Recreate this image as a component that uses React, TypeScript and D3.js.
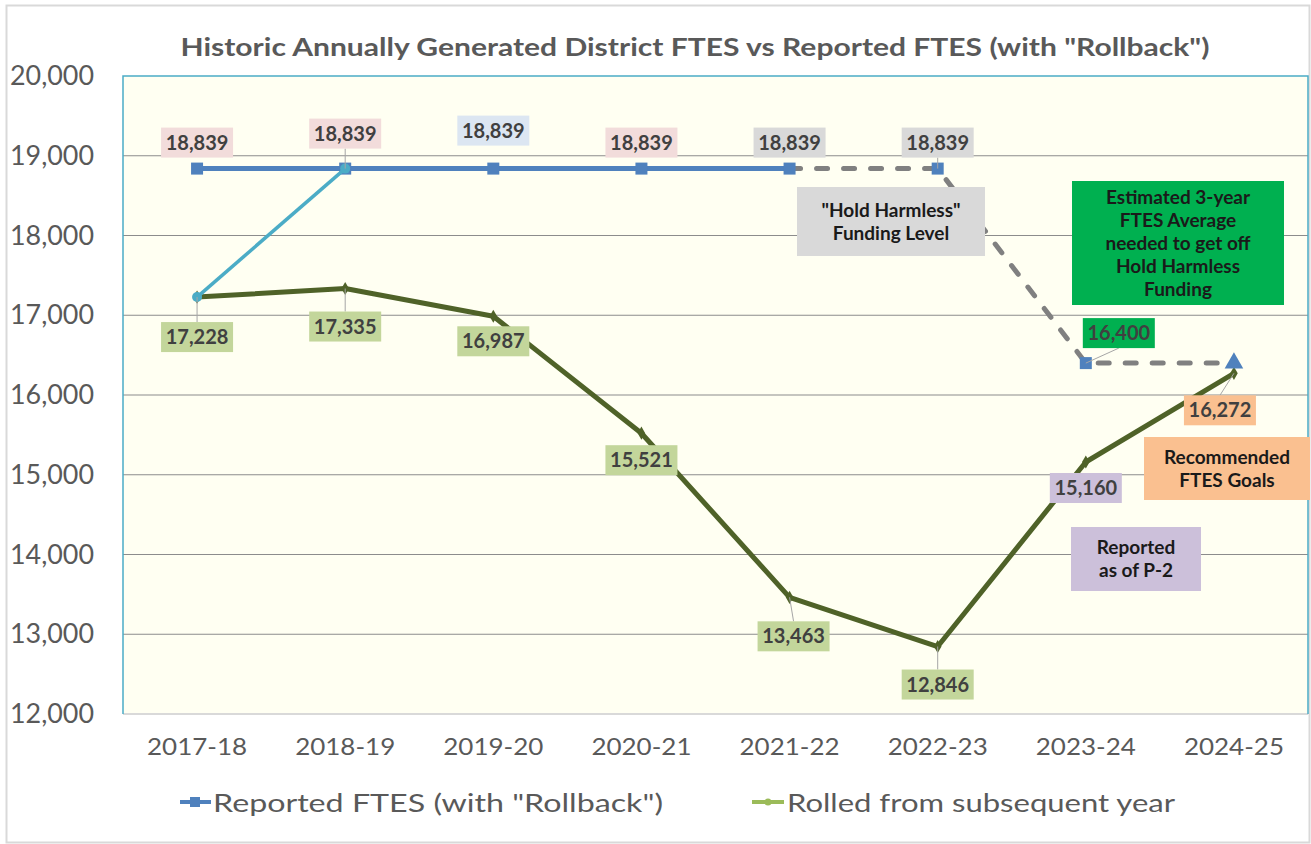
import React from 'react';
import * as d3 from 'd3';

// Data
const years = ['2017-18', '2018-19', '2019-20', '2020-21', '2021-22', '2022-23', '2023-24', '2024-25'];
const reported = [18839, 18839, 18839, 18839, 18839];
const projected = [18839, 18839, 16400, 16400];
const rolledFrom = [17228, 17335, 16987, 15521, 13463, 12846, 15160, 16272];
const rollbackLink = [17228, 18839];
const yTicks = [12000, 13000, 14000, 15000, 16000, 17000, 18000, 19000, 20000];

const W = 1311;
const H = 844;
const margin = { top: 76, right: 3, bottom: 130, left: 123 };
const FONT = 'Lato, "Open Sans", sans-serif';

const x = d3
  .scalePoint<string>()
  .domain(years)
  .range([margin.left, W - margin.right])
  .padding(0.5);
const y = d3.scaleLinear().domain([12000, 20000]).range([H - margin.bottom, margin.top]);

const fmt = d3.format(',');

type Lbl = { i: number; v: number; dx: number; dy: number; fill: string; leader?: boolean };

const App: React.FC = () => {
  const lineGen = (offset: number) =>
    d3
      .line<number>()
      .x((_, i) => x(years[i + offset])!)
      .y(d => y(d));

  const pink = '#f2dcdb';
  const ltBlue = '#dce6f2';
  const grey = '#d9d9d9';
  const olive = '#c3d69b';

  const topLabels: Lbl[] = [
    { i: 0, v: reported[0], dx: 0, dy: -26, fill: pink },
    { i: 1, v: reported[1], dx: 0, dy: -35, fill: pink, leader: true },
    { i: 2, v: reported[2], dx: 0, dy: -38, fill: ltBlue },
    { i: 3, v: reported[3], dx: 0, dy: -26, fill: pink },
    { i: 4, v: reported[4], dx: 0, dy: -26, fill: grey },
    { i: 5, v: projected[1], dx: 0, dy: -26, fill: grey, leader: true },
    { i: 6, v: projected[2], dx: 33, dy: -30, fill: '#00b050', leader: true },
  ];
  const lowLabels: Lbl[] = [
    { i: 0, v: rolledFrom[0], dx: 0, dy: 40, fill: olive, leader: true },
    { i: 1, v: rolledFrom[1], dx: 0, dy: 38, fill: olive, leader: true },
    { i: 2, v: rolledFrom[2], dx: 0, dy: 25, fill: olive },
    { i: 3, v: rolledFrom[3], dx: 0, dy: 27, fill: olive },
    { i: 4, v: rolledFrom[4], dx: 4, dy: 39, fill: olive, leader: true },
    { i: 5, v: rolledFrom[5], dx: 0, dy: 38, fill: olive, leader: true },
    { i: 6, v: rolledFrom[6], dx: 0, dy: 26, fill: '#ccc0da' },
    { i: 7, v: rolledFrom[7], dx: -14, dy: 37, fill: '#fac090', leader: true },
  ];

  const renderLabel = (l: Lbl, k: string) => {
    const px = x(years[l.i])!;
    const py = y(l.v);
    const cx = px + l.dx;
    const cy = py + l.dy;
    return (
      <g key={k}>
        {l.leader && (
          <line x1={px} y1={py} x2={cx} y2={cy + (l.dy < 0 ? 15 : -15)} stroke="#a6a6a6" strokeWidth={1} />
        )}
        <rect x={cx - 36} y={cy - 15} width={72} height={30} fill={l.fill} />
        <text x={cx} y={cy + 7} textAnchor="middle" fontFamily={FONT} fontWeight={700} fontSize={20} fill="#404040">
          {fmt(l.v)}
        </text>
      </g>
    );
  };

  const note = (bx: number, by: number, bw: number, bh: number, fill: string, lines: string[], k: string) => {
    const lh = 23;
    const y0 = by + bh / 2 - ((lines.length - 1) * lh) / 2 + 6.5;
    return (
      <g key={k}>
        <rect x={bx} y={by} width={bw} height={bh} fill={fill} />
        {lines.map((t, j) => (
          <text key={j} x={bx + bw / 2} y={y0 + j * lh} textAnchor="middle" fontFamily={FONT} fontWeight={700} fontSize={19} fill="#1a1a1a">
            {t}
          </text>
        ))}
      </g>
    );
  };

  const plotL = margin.left;
  const plotR = W - margin.right;
  const plotT = margin.top;
  const plotB = H - margin.bottom;
  const lastX = x(years[7])!;
  const lastY = y(projected[3]);

  return (
    <svg width={W} height={H} style={{ position: 'absolute', left: 0, top: 0, background: '#fff' }}>
      {/* outer frame */}
      <rect x={6.5} y={5.5} width={W - 8} height={H - 7} fill="#fff" stroke="#d9d9d9" strokeWidth={2} />

      <text
        x={695}
        y={56}
        textAnchor="middle"
        fontFamily={FONT}
        fontWeight={700}
        fontSize={25}
        fill="#595959"
        textLength={1029}
        lengthAdjust="spacingAndGlyphs"
      >
        Historic Annually Generated District FTES vs Reported FTES (with "Rollback")
      </text>

      {/* plot area */}
      <rect x={plotL} y={plotT} width={plotR - plotL} height={plotB - plotT} fill="#fffff2" />
      {yTicks.slice(1, -1).map(t => (
        <line key={t} x1={plotL} x2={plotR} y1={y(t)} y2={y(t)} stroke="#8c8c8c" strokeWidth={1.2} />
      ))}
      <line x1={plotL} x2={plotR} y1={plotB} y2={plotB} stroke="#d9d9d9" strokeWidth={2} />
      <path d={`M${plotL},${plotB}V${plotT}H${plotR}V${plotB}`} fill="none" stroke="#4bacc6" strokeWidth={1.5} />

      {yTicks.map(t => (
        <text
          key={t}
          x={10}
          y={y(t) + 9}
          fontFamily={FONT}
          fontSize={26}
          fill="#595959"
          textLength={84}
          lengthAdjust="spacingAndGlyphs"
        >
          {fmt(t)}
        </text>
      ))}
      {years.map(yr => (
        <text
          key={yr}
          x={x(yr)! - 50}
          y={755}
          fontFamily={FONT}
          fontSize={24}
          fill="#595959"
          textLength={100}
          lengthAdjust="spacingAndGlyphs"
        >
          {yr}
        </text>
      ))}

      {/* projected dashed series */}
      <path
        d={lineGen(4)(projected)!}
        fill="none"
        stroke="#808080"
        strokeWidth={5}
        strokeDasharray="11 16"
        strokeLinecap="round"
      />

      {/* rolled from subsequent year */}
      <path d={lineGen(0)(rolledFrom)!} fill="none" stroke="#4f6228" strokeWidth={5} strokeLinejoin="round" />
      {rolledFrom.map((v, i) => (
        <path
          key={i}
          d={d3.symbol(d3.symbolDiamond, 50)()!}
          transform={`translate(${x(years[i])},${y(v)})`}
          fill="#4f6228"
        />
      ))}

      {/* reported with rollback */}
      <path d={lineGen(0)(reported)!} fill="none" stroke="#4f81bd" strokeWidth={5} />
      {reported.map((v, i) => (
        <rect key={i} x={x(years[i])! - 6} y={y(v) - 6} width={12} height={12} fill="#4f81bd" />
      ))}
      {projected.slice(1, 3).map((v, i) => (
        <rect key={i} x={x(years[i + 5])! - 6} y={y(v) - 6} width={12} height={12} fill="#4f81bd" />
      ))}
      <path
        d={d3.symbol(d3.symbolTriangle, 150)()!}
        transform={`translate(${lastX},${lastY})`}
        fill="#4f81bd"
      />

      {/* rollback link */}
      <path d={lineGen(0)(rollbackLink)!} fill="none" stroke="#4bacc6" strokeWidth={3.5} />
      {rollbackLink.map((v, i) => (
        <circle key={i} cx={x(years[i])} cy={y(v)} r={5} fill="#4bacc6" />
      ))}

      {topLabels.map((l, k) => renderLabel(l, 't' + k))}
      {lowLabels.map((l, k) => renderLabel(l, 'l' + k))}

      {note(797, 187, 188, 69, '#d9d9d9', ['"Hold Harmless"', 'Funding Level'], 'hh')}
      {note(1072, 181, 212, 124, '#00b050', ['Estimated 3-year', 'FTES Average', 'needed to get off', 'Hold Harmless', 'Funding'], 'gr')}
      {note(1144, 437, 166, 63, '#fac090', ['Recommended', 'FTES Goals'], 'pc')}
      {note(1071, 527, 130, 64, '#ccc0da', ['Reported', 'as of P-2'], 'lv')}

      {/* legend */}
      <line x1={180} x2={211} y1={802} y2={802} stroke="#4f81bd" strokeWidth={4} />
      <rect x={190} y={797} width={10} height={10} fill="#4f81bd" />
      <text x={213} y={812} fontFamily={FONT} fontSize={25} fill="#595959" textLength={450} lengthAdjust="spacingAndGlyphs">
        Reported FTES (with "Rollback")
      </text>
      <line x1={752} x2={784} y1={802} y2={802} stroke="#9bbb59" strokeWidth={4} />
      <circle cx={768} cy={802} r={3.5} fill="#9bbb59" />
      <text x={787} y={812} fontFamily={FONT} fontSize={25} fill="#595959" textLength={388} lengthAdjust="spacingAndGlyphs">
        Rolled from subsequent year
      </text>
    </svg>
  );
};

export default App;
